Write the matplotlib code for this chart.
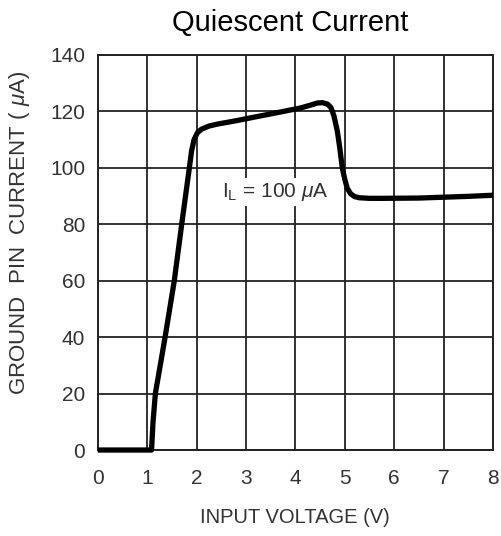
import matplotlib
matplotlib.use("Agg")
import matplotlib.pyplot as plt

# Data
voltage = [0, 1.09, 1.12, 1.167, 1.364, 1.55, 1.70, 1.855, 1.90, 1.95, 2.02, 2.10,
           2.25, 2.42, 2.80, 3.29, 3.70, 4.10, 4.30, 4.45, 4.55, 4.65, 4.72, 4.78,
           4.85, 4.90, 4.95, 5.00, 5.05, 5.12, 5.20, 5.30, 5.50, 5.78, 6.50, 7.00,
           7.50, 8.00]
current = [0, 0, 10, 20, 40, 60, 80, 100, 106, 110, 112.5, 113.7,
           114.8, 115.5, 116.7, 118.4, 119.8, 121.2, 122.2, 123.0, 123.1, 122.6, 121.4, 118.5,
           113, 107, 100, 96, 92.8, 90.8, 89.8, 89.4, 89.2, 89.2, 89.3, 89.6,
           89.9, 90.3]
x_ticks = [0, 1, 2, 3, 4, 5, 6, 7, 8]
y_ticks = [0, 20, 40, 60, 80, 100, 120, 140]

title = "Quiescent Current"
xlabel = "INPUT VOLTAGE (V)"
ylabel = "GROUND  PIN  CURRENT ( $\\mu$A)"
annot = "I$_\\mathregular{L}$ = 100 $\\mu$A"

plt.rcParams['font.family'] = ['Liberation Sans', 'DejaVu Sans']
plt.rcParams['mathtext.fontset'] = 'custom'
plt.rcParams['mathtext.rm'] = 'Liberation Sans'
plt.rcParams['mathtext.it'] = 'Liberation Sans:italic'

fig = plt.figure(figsize=(5.01, 5.36), dpi=100)
ax = fig.add_axes([0.195, 0.1604, 0.789, 0.737])

ax.set_xlim(0, 8)
ax.set_ylim(0, 140)
ax.set_xticks(x_ticks)
ax.set_yticks(y_ticks)
ax.grid(True, color='#222222', linewidth=1.3)
ax.set_axisbelow(True)
for s in ax.spines.values():
    s.set_color('#222222')
    s.set_linewidth(1.4)
ax.tick_params(length=0, labelsize=15, colors='#333333', pad=9)
ax.tick_params(axis='x', pad=14)

ax.plot(voltage, current, color='black', linewidth=3.8, solid_capstyle='butt',
        solid_joinstyle='round', clip_on=False, zorder=3)

ax.text(2.52, 91.5, annot, fontsize=15, color='#333333', ha='left', va='center',
        bbox=dict(facecolor='white', edgecolor='none', pad=2), zorder=2)

ax.set_xlabel(xlabel, fontsize=14.5, color='#333333', labelpad=14)
ax.set_ylabel(ylabel, fontsize=16, color='#333333')
ax.yaxis.set_label_coords(-0.166, 0.549)
fig.text(0.58, 0.957, title, fontsize=21, ha='center', va='center', color='black')

fig.savefig("out.png", dpi=100)
